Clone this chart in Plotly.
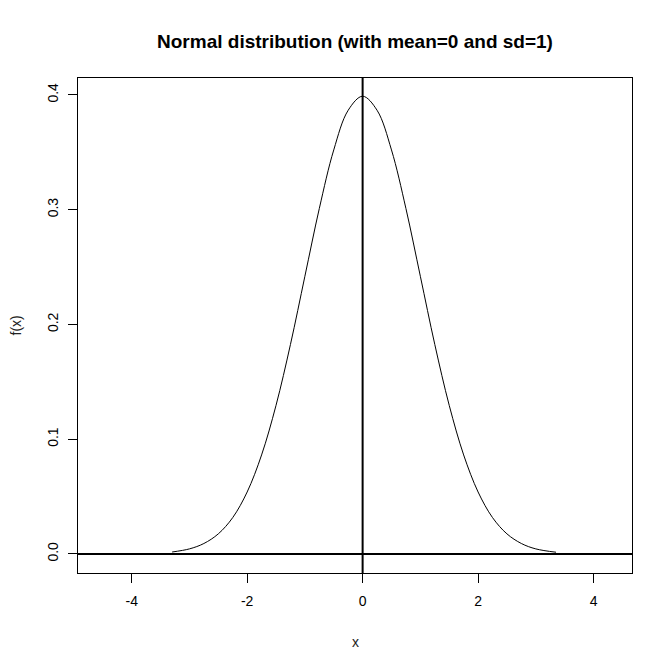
import plotly.graph_objects as go

# Values
x_vals = [-3.3, -3.0, -2.75, -2.5, -2.25, -2.0, -1.75, -1.5, -1.25, -1.0, -0.75, -0.5, -0.25, 0.0,
          0.25, 0.5, 0.75, 1.0, 1.25, 1.5, 1.75, 2.0, 2.25, 2.5, 2.75, 3.0, 3.35]
fx_vals = [0.0017, 0.0044, 0.0091, 0.0175, 0.0317, 0.0540, 0.0863, 0.1295, 0.1826, 0.2420, 0.3011, 0.3521, 0.3867, 0.3989,
           0.3867, 0.3521, 0.3011, 0.2420, 0.1826, 0.1295, 0.0863, 0.0540, 0.0317, 0.0175, 0.0091, 0.0044, 0.0015]
x_ticks = [-4, -2, 0, 2, 4]
y_ticks = [0.0, 0.1, 0.2, 0.3, 0.4]
y_ticklabels = ["0.0", "0.1", "0.2", "0.3", "0.4"]
x_range = [-4.93, 4.666]
y_range = [-0.0166, 0.4148]

fig = go.Figure()
fig.add_trace(go.Scatter(x=x_vals, y=fx_vals, mode="lines",
                         line=dict(color="black", width=1, shape="spline"),
                         hoverinfo="skip", showlegend=False))

fig.add_shape(type="line", xref="x", yref="paper", x0=0, x1=0, y0=0, y1=1,
              line=dict(color="black", width=2))
fig.add_shape(type="line", xref="paper", yref="y", x0=0, x1=1, y0=0, y1=0,
              line=dict(color="black", width=2))

font_main = "Liberation Sans, Arial, sans-serif"
fig.update_layout(
    width=672, height=671,
    margin=dict(l=78, r=40, t=78, b=98),
    paper_bgcolor="white", plot_bgcolor="white",
    font=dict(family=font_main, color="black", size=14),
    title=dict(text="<b>Normal distribution (with mean=0 and sd=1)</b>",
               x=0.5, xref="paper", xanchor="center",
               y=1 - 41 / 671, yanchor="middle",
               font=dict(size=19, family=font_main, color="black")),
    xaxis=dict(range=x_range, tickmode="array", tickvals=x_ticks,
               ticktext=[str(v) for v in x_ticks],
               showgrid=False, zeroline=False, showline=True, mirror=True,
               linecolor="black", linewidth=1, ticks="outside", ticklen=9,
               tickcolor="black", tickwidth=1, tickfont=dict(size=14),
               ticklabelstandoff=6),
    yaxis=dict(range=y_range, tickmode="array", tickvals=y_ticks,
               ticktext=y_ticklabels, tickangle=-90,
               showgrid=False, zeroline=False, showline=True, mirror=True,
               linecolor="black", linewidth=1, ticks="outside", ticklen=9,
               tickcolor="black", tickwidth=1, tickfont=dict(size=14),
               ticklabelstandoff=4),
    annotations=[
        dict(text="x", xref="paper", yref="paper", x=0.5, y=-(642 - 573) / 495,
             xanchor="center", yanchor="middle", showarrow=False,
             font=dict(size=14, color="#222222")),
        dict(text="f(x)", xref="paper", yref="paper", x=-(78 - 16) / 553.7, y=0.5,
             xanchor="center", yanchor="middle", showarrow=False, textangle=-90,
             font=dict(size=14, color="#222222")),
    ],
)

fig.write_html("out.html")
